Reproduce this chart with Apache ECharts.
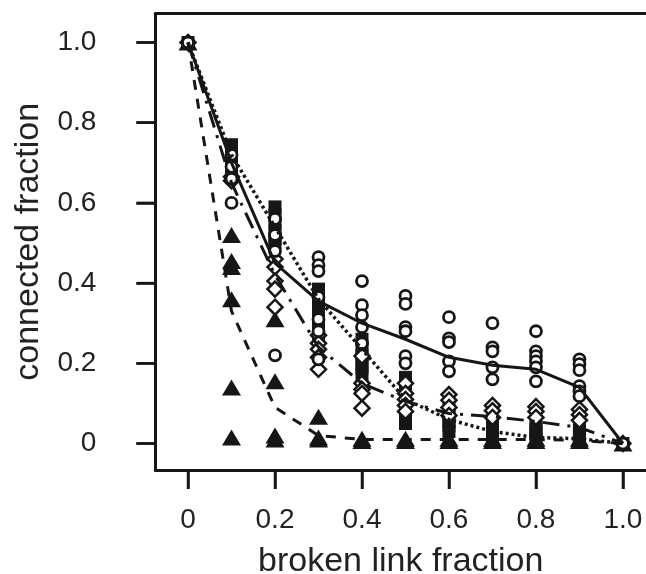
<!DOCTYPE html>
<html>
<head>
<meta charset="utf-8">
<script src="https://cdn.jsdelivr.net/npm/echarts@6/dist/echarts.min.js"></script>
<style>
  html, body { margin: 0; padding: 0; background: #fff; }
  #chart { width: 646px; height: 574px; }
</style>
</head>
<body>
<div id="chart"></div>
<script>
// x positions of the runs
const fractions = [0, 0.1, 0.2, 0.3, 0.4, 0.5, 0.6, 0.7, 0.8, 0.9, 1.0];
const tickValues = [0, 0.2, 0.4, 0.6, 0.8, 1.0];

// replicate values per fraction
const circleRuns = [
  [1.0],
  [0.60, 0.66, 0.69, 0.72],
  [0.22, 0.48, 0.52, 0.56],
  [0.465, 0.445, 0.43, 0.365, 0.31, 0.28, 0.21],
  [0.405, 0.345, 0.32, 0.29, 0.25],
  [0.368, 0.348, 0.29, 0.28, 0.218, 0.2],
  [0.315, 0.262, 0.253, 0.205, 0.18],
  [0.30, 0.24, 0.23, 0.19, 0.16],
  [0.28, 0.23, 0.218, 0.205, 0.19, 0.155],
  [0.21, 0.198, 0.183, 0.143, 0.13, 0.118],
  [0]
];
const squareRuns = [
  [1.0],
  [0.745, 0.725, 0.705, 0.69, 0.675],
  [0.59, 0.57, 0.55, 0.53, 0.51, 0.50],
  [0.385, 0.36, 0.34, 0.32, 0.30, 0.28, 0.27],
  [0.26, 0.24, 0.22, 0.20, 0.19, 0.17],
  [0.165, 0.14, 0.12, 0.10, 0.08, 0.06, 0.05],
  [0.085, 0.07, 0.055, 0.045, 0.03],
  [0.055, 0.04, 0.03, 0.02],
  [0.05, 0.035, 0.025, 0.015],
  [0.045, 0.03, 0.02, 0.012],
  [0]
];
const diamondRuns = [
  [1.0],
  [0.655, 0.665],
  [0.46, 0.44, 0.405, 0.385, 0.34],
  [0.27, 0.25, 0.235, 0.215, 0.185],
  [0.218, 0.15, 0.135, 0.125, 0.088],
  [0.15, 0.125, 0.11, 0.095, 0.08],
  [0.122, 0.108, 0.09, 0.07],
  [0.095, 0.082, 0.065],
  [0.092, 0.08, 0.065],
  [0.085, 0.072, 0.058],
  [0]
];
const triangleRuns = [
  [1.0],
  [0.52, 0.455, 0.44, 0.36, 0.14, 0.015],
  [0.31, 0.155, 0.02, 0.01],
  [0.067, 0.015, 0.01],
  [0.012, 0.006],
  [0.012, 0.006],
  [0.012, 0.006],
  [0.012, 0.006],
  [0.012, 0.006],
  [0.012, 0.006],
  [0]
];

// mean curves
const solidMean = [1.0, 0.70, 0.45, 0.355, 0.30, 0.26, 0.215, 0.195, 0.185, 0.14, 0];
const dottedMean = [1.0, 0.72, 0.54, 0.36, 0.235, 0.11, 0.06, 0.03, 0.015, 0.012, 0];
const dashDotMean = [1.0, 0.65, 0.42, 0.24, 0.15, 0.105, 0.075, 0.067, 0.055, 0.04, 0];
const dashedMean = [1.0, 0.33, 0.09, 0.02, 0.01, 0.01, 0.01, 0.01, 0.01, 0.008, 0];

const ink = '#161616';
const font = "'Liberation Sans', Arial, sans-serif";
const xMin = -0.075, xMax = 1.053;
const yMin = -0.066, yMax = 1.072;
const tickLen = 19;

function toPoints(runs) {
  return fractions.flatMap((x, i) => runs[i].map(y => [x, y]));
}
function toLine(vals) {
  return fractions.map((x, i) => [x, vals[i]]);
}
function fmt(v) {
  return v === 0 ? '0' : v.toFixed(1);
}

const chart = echarts.init(document.getElementById('chart'));

const lineSeries = (vals, type, width) => ({
  type: 'line',
  data: toLine(vals),
  symbol: 'none',
  z: 5,
  lineStyle: { color: ink, width: width, type: type },
  silent: true
});

function frameAxis(extra) {
  return Object.assign({
    type: 'value',
    z: 50,
    axisLine: { show: true, onZero: false, lineStyle: { color: ink, width: 3 } },
    splitLine: { show: false },
    axisTick: {
      show: true, customValues: tickValues, length: tickLen,
      lineStyle: { color: ink, width: 2.5 }
    }
  }, extra);
}

chart.setOption({
  animation: false,
  grid: { left: 155.4, right: 0, top: 13.6, bottom: 104, outerBoundsMode: 'none' },
  xAxis: [
    frameAxis({
      min: xMin, max: xMax, position: 'bottom',
      axisLabel: {
        customValues: tickValues, formatter: fmt, margin: 36,
        fontSize: 28, fontFamily: font, color: '#222'
      },
      name: 'broken link fraction', nameLocation: 'middle', nameGap: 75,
      nameTextStyle: { fontSize: 34, fontFamily: font, color: '#222' }
    }),
    frameAxis({
      min: xMin, max: xMax, position: 'top',
      axisTick: { show: false }, axisLabel: { show: false }
    })
  ],
  yAxis: frameAxis({
    min: yMin, max: yMax, position: 'left',
    axisLabel: {
      customValues: tickValues, formatter: fmt, margin: 59,
      fontSize: 28, fontFamily: font, color: '#222'
    },
    name: 'connected fraction', nameLocation: 'middle', nameGap: 110,
    nameTextStyle: { fontSize: 34, fontFamily: font, color: '#222' }
  }),
  series: [
    {
      type: 'scatter', data: toPoints(squareRuns), symbol: 'rect', symbolSize: 13,
      itemStyle: { color: ink, opacity: 1 }
    },
    {
      type: 'scatter', data: toPoints(triangleRuns), symbol: 'triangle', symbolSize: [19, 16],
      itemStyle: { color: ink, opacity: 1 }
    },
    {
      type: 'scatter', data: toPoints(diamondRuns), symbol: 'diamond', symbolSize: [15, 15],
      itemStyle: { color: '#fff', borderColor: ink, borderWidth: 2.5, opacity: 1 }
    },
    {
      type: 'scatter', data: toPoints(circleRuns), symbol: 'circle', symbolSize: 11,
      itemStyle: { color: '#fff', borderColor: ink, borderWidth: 2.8, opacity: 1 }
    },
    lineSeries(solidMean, 'solid', 3),
    lineSeries(dottedMean, [3, 3], 3.5),
    lineSeries(dashDotMean, [17, 8, 3, 8], 3),
    lineSeries(dashedMean, [10, 9], 3)
  ]
});

// outward tick marks, placed through the chart's own scales
const tickEls = [];
tickValues.forEach(v => {
  const px = chart.convertToPixel({ xAxisIndex: 0, yAxisIndex: 0 }, [v, yMin]);
  tickEls.push({
    type: 'line', z: 100, zlevel: 1, silent: true,
    shape: { x1: px[0], y1: px[1], x2: px[0], y2: px[1] + tickLen },
    style: { stroke: ink, lineWidth: 2.5 }
  });
  const py = chart.convertToPixel({ xAxisIndex: 0, yAxisIndex: 0 }, [xMin, v]);
  tickEls.push({
    type: 'line', z: 100, zlevel: 1, silent: true,
    shape: { x1: py[0], y1: py[1], x2: py[0] - tickLen, y2: py[1] },
    style: { stroke: ink, lineWidth: 2.5 }
  });
});
chart.setOption({ graphic: { elements: tickEls } });
</script>
</body>
</html>
